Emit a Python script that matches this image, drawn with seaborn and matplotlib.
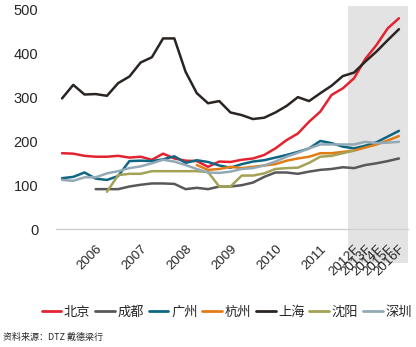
import numpy as np
import pandas as pd
import matplotlib
matplotlib.use("Agg")
import matplotlib.pyplot as plt
import matplotlib.transforms as mtransforms
from matplotlib.patches import Rectangle
import seaborn as sns

nan = np.nan

# Periods: quarterly 2005-2011, then annual forecasts 2012F-2016F
tick_labels = ["", "", "", "2006", "", "", "", "2007", "", "", "", "2008",
               "", "", "", "2009", "", "", "", "2010", "", "", "", "2011",
               "", "", "2012F", "2013F", "2014F", "2015F", "2016F"]

beijing = [173, 172, 167, 165, 165, 167, 163, 165, 158, 172, 161, 156, 155, 142,
           154, 153, 158, 161, 169, 184, 203, 218, 245, 268, 306, 321,
           344, 388, 420, 458, 481]
chengdu = [nan, nan, nan, 91, 91, 91, 97, 101, 104, 104, 103, 91, 94, 91,
           97, 97, 100, 106, 119, 129, 129, 126, 131, 135, 137, 141,
           139, 146, 150, 155, 161]
guangzhou = [116, 119, 129, 115, 112, 121, 155, 156, 155, 159, 166, 151, 157, 153,
             145, 140, 148, 154, 157, 163, 169, 176, 184, 201, 196, 188,
             184, 190, 198, 211, 224]
hangzhou = [nan, nan, nan, nan, nan, nan, nan, nan, nan, nan, nan, nan, 146, 135,
            137, 142, 139, 142, 145, 148, 156, 161, 165, 173, 173, 176,
            179, 186, 193, 202, 212]
shanghai = [298, 329, 307, 308, 304, 333, 348, 380, 392, 435, 435, 359, 310, 287,
            292, 266, 260, 251, 254, 266, 281, 301, 292, 310, 327, 349,
            357, 382, 405, 431, 456]
shenyang = [nan, nan, nan, nan, 85, 123, 126, 126, 132, 132, 132, 132, 132, 130,
            97, 97, 122, 122, 127, 137, 139, 140, 151, 165, 167, 173,
            179, nan, nan, nan, nan]
shenzhen = [112, 110, 118, 118, 127, 132, 139, 143, 150, 158, 154, 146, 137, 129,
            128, 131, 137, 139, 145, 154, 165, 174, 184, 193, 193, 193,
            193, 199, 196, 197, 199]

cities = ["北京", "成都", "广州", "杭州", "上海", "沈阳", "深圳"]
colors = ["#E3232F", "#58585A", "#0F6683", "#E17C16", "#2A2522", "#A4A255", "#93A9B6"]
series = [beijing, chengdu, guangzhou, hangzhou, shanghai, shenyang, shenzhen]

x = np.arange(len(tick_labels))
frames = []
for name, vals in zip(cities, series):
    frames.append(pd.DataFrame({"idx": x, "value": vals, "city": name}))
df = pd.concat(frames, ignore_index=True)

sns.set_theme(style="white")
plt.rcParams["font.family"] = ["Liberation Sans", "Noto Sans CJK SC", "DejaVu Sans"]

fig = plt.figure(figsize=(4.16, 3.47), dpi=100)
ax = fig.add_axes([0.1356, 0.340, 0.845, 0.644])

# Forecast band
trans = mtransforms.blended_transform_factory(ax.transData, ax.transAxes)
band = Rectangle((25.5, -0.15), 5.3, 1.15, transform=trans, facecolor="#E3E3E3",
                 edgecolor="none", clip_on=False, zorder=0)
ax.add_patch(band)

sns.lineplot(data=df, x="idx", y="value", hue="city", hue_order=cities,
             palette=colors, linewidth=1.8, ax=ax, legend=False, zorder=3)

ax.set_xlim(-0.5, 30.8)
ax.set_ylim(0, 510)
ax.set_yticks([0, 100, 200, 300, 400, 500])
ax.set_xticks(x)
ax.set_xticklabels(tick_labels, rotation=45, ha="right", rotation_mode="anchor",
                   fontsize=9.5)
ax.tick_params(axis="x", length=0, pad=10)
ax.tick_params(axis="y", length=0, pad=13, labelsize=10.5)
ax.set_xlabel("")
ax.set_ylabel("")
for side in ["top", "right", "left"]:
    ax.spines[side].set_visible(False)
ax.spines["bottom"].set_color("#D0D0D0")
ax.spines["bottom"].set_linewidth(1.0)
ax.set_facecolor("none")
ax.set_zorder(1)

handles = [plt.Line2D([], [], color=c, linewidth=2.0) for c in colors]
fig.legend(handles, cities, loc="center", bbox_to_anchor=(0.545, 0.10), ncol=7,
           frameon=False, handlelength=1.5, handletextpad=0.2,
           columnspacing=0.35, prop={"family": ["Noto Sans CJK SC", "DejaVu Sans"], "size": 9.5})

fig.text(0.008, 0.027, "资料来源：DTZ 戴德梁行", fontsize=6.5,
         family=["Noto Sans CJK SC", "DejaVu Sans"], va="center", ha="left")

fig.savefig("out.png", dpi=100)
